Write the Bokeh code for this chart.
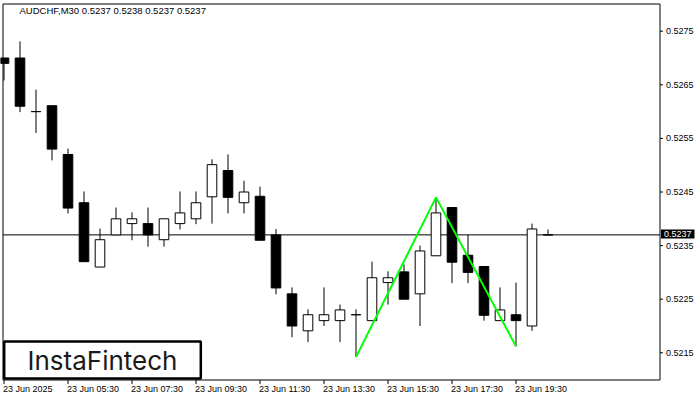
from bokeh.plotting import figure
from bokeh.models import ColumnDataSource
from bokeh.core.properties import value
from bokeh.embed import file_html
from bokeh.resources import INLINE

# ---------------- data ----------------
title_text = "AUDCHF,M30  0.5237 0.5238 0.5237 0.5237"

opens = [0.52700, 0.52700, 0.52600, 0.52611, 0.52520, 0.52430, 0.52310, 0.52370, 0.52391, 0.52391,
         0.52361, 0.52391, 0.52400, 0.52441, 0.52490, 0.52430, 0.52442, 0.52370, 0.52260, 0.52191,
         0.52210, 0.52210, 0.52221, 0.52210, 0.52281, 0.52301, 0.52260, 0.52331, 0.52421, 0.52332,
         0.52311, 0.52210, 0.52221, 0.52200, 0.52370]
highs = [0.52700, 0.52731, 0.52641, 0.52611, 0.52531, 0.52451, 0.52382, 0.52421, 0.52412, 0.52421,
         0.52400, 0.52451, 0.52451, 0.52511, 0.52520, 0.52471, 0.52460, 0.52381, 0.52272, 0.52231,
         0.52272, 0.52240, 0.52231, 0.52320, 0.52302, 0.52315, 0.52350, 0.52440, 0.52421, 0.52370,
         0.52311, 0.52272, 0.52281, 0.52391, 0.52380]
lows = [0.52658, 0.52599, 0.52560, 0.52509, 0.52410, 0.52320, 0.52310, 0.52370, 0.52360, 0.52348,
        0.52348, 0.52380, 0.52390, 0.52391, 0.52410, 0.52410, 0.52360, 0.52259, 0.52179, 0.52170,
        0.52200, 0.52170, 0.52142, 0.52210, 0.52240, 0.52250, 0.52200, 0.52331, 0.52280, 0.52280,
        0.52210, 0.52210, 0.52162, 0.52191, 0.52370]
closes = [0.52690, 0.52610, 0.52600, 0.52530, 0.52420, 0.52320, 0.52361, 0.52400, 0.52400, 0.52370,
          0.52400, 0.52411, 0.52430, 0.52501, 0.52440, 0.52450, 0.52360, 0.52271, 0.52200, 0.52221,
          0.52221, 0.52230, 0.52221, 0.52290, 0.52290, 0.52250, 0.52340, 0.52411, 0.52319, 0.52300,
          0.52220, 0.52230, 0.52210, 0.52381, 0.52370]

time_tick_idx = [0, 4, 8, 12, 16, 20, 24, 28, 32]
time_labels = ["23 Jun 2025", "23 Jun 05:30", "23 Jun 07:30", "23 Jun 09:30", "23 Jun 11:30",
               "23 Jun 13:30", "23 Jun 15:30", "23 Jun 17:30", "23 Jun 19:30"]
price_ticks = [0.5215, 0.5225, 0.5235, 0.5245, 0.5255, 0.5265, 0.5275]
price_tick_labels = ["0.5215", "0.5225", "0.5235", "0.5245", "0.5255", "0.5265", "0.5275"]
last_price = 0.5237
last_price_label = "0.5237"

pattern_idx = [22, 27, 32]
pattern_price = [0.52142, 0.52440, 0.52162]

logo_text = "InstaFintech"

# ---------------- layout helpers (pixel layout -> data space) ----------------
W, H = 700, 400
X0_PX, PX_PER_BAR = 3.5, 16.0            # centre of bar 0, bar spacing
Y_REF_PX, Y_REF_PRICE, PX_PER_UNIT = 30.7, 0.5275, 53600.0


def xd(px):
    return (px - X0_PX) / PX_PER_BAR


def yd(py):
    return Y_REF_PRICE - (py - Y_REF_PX) / PX_PER_UNIT


FL, FR, FT, FB = 2.5, 659.5, 3.5, 379.5   # chart frame edges (pixel centres)
FONT = "Liberation Sans"

p = figure(width=W, height=H, output_backend="svg", toolbar_location=None,
           x_range=(xd(0), xd(W)), y_range=(yd(H), yd(0)),
           x_axis_location=None, y_axis_location=None,
           min_border_left=0, min_border_right=0, min_border_top=0, min_border_bottom=0)
p.grid.visible = False
p.outline_line_color = None
p.background_fill_color = "white"
p.border_fill_color = "white"

# current price line (behind candles)
p.segment(x0=[xd(FL)], x1=[xd(FR)], y0=[last_price], y1=[last_price],
          line_color="black", line_width=1)

# candles
src = ColumnDataSource(dict(
    idx=list(range(len(opens))),
    high=highs,
    low=lows,
    top=[max(o, c) for o, c in zip(opens, closes)],
    bottom=[min(o, c) for o, c in zip(opens, closes)],
    fill=["white" if c > o else "black" for o, c in zip(opens, closes)],
))
p.segment(x0="idx", y0="low", x1="idx", y1="high", source=src, line_color="black", line_width=1)
p.vbar(x="idx", width=0.6, top="top", bottom="bottom", source=src,
       fill_color="fill", line_color="black", line_width=1)

# double-top pattern
p.line(pattern_idx, pattern_price, line_color="#00ff00", line_width=2)

# chart frame
p.line([xd(FL), xd(FR), xd(FR), xd(FL), xd(FL)], [yd(FT), yd(FT), yd(FB), yd(FB), yd(FT)],
       line_color="black", line_width=1)

# price axis (right)
p.segment(x0=[xd(FR)] * len(price_ticks), x1=[xd(FR + 3)] * len(price_ticks),
          y0=price_ticks, y1=price_ticks, line_color="black", line_width=1)
p.text(x=[xd(665.5)] * len(price_ticks), y=price_ticks, text=price_tick_labels,
       text_font=value(FONT), text_font_size=value("9px"), text_color="#000000",
       text_align="left", text_baseline="middle")

# time axis (bottom)
p.segment(x0=time_tick_idx, x1=time_tick_idx, y0=[yd(FB)] * len(time_tick_idx),
          y1=[yd(FB + 4)] * len(time_tick_idx), line_color="black", line_width=1)
p.text(x=time_tick_idx, y=[yd(388.5)] * len(time_tick_idx), text=time_labels, x_offset=-1,
       text_font=value(FONT), text_font_size=value("9px"), text_color="#000000",
       text_align="left", text_baseline="middle")

# current price marker on the price axis
p.quad(left=[xd(660.5)], right=[xd(694)], top=[last_price + 5.4 / PX_PER_UNIT],
       bottom=[last_price - 3.6 / PX_PER_UNIT], fill_color="black", line_color=None)
p.text(x=[xd(663.5)], y=[last_price + 0.9 / PX_PER_UNIT], text=[last_price_label],
       text_font=value(FONT), text_font_size=value("9px"), text_color="white",
       text_align="left", text_baseline="middle")

# title
p.text(x=[xd(19)], y=[yd(10)], text=[title_text], text_font=value(FONT),
       text_font_size=value("9.5px"), text_color="#000000",
       text_align="left", text_baseline="middle")

# logo
p.quad(left=[xd(3.7)], right=[xd(200.3)], top=[yd(341)], bottom=[yd(378)],
       fill_color="white", line_color="black", line_width=2.5)
p.text(x=[xd(102)], y=[yd(360)], text=[logo_text], text_font=value("Inter"),
       text_font_size=value("26px"), text_color="#1a1a1a",
       text_align="center", text_baseline="middle")

open("out.html", "w").write(file_html(p, INLINE))
